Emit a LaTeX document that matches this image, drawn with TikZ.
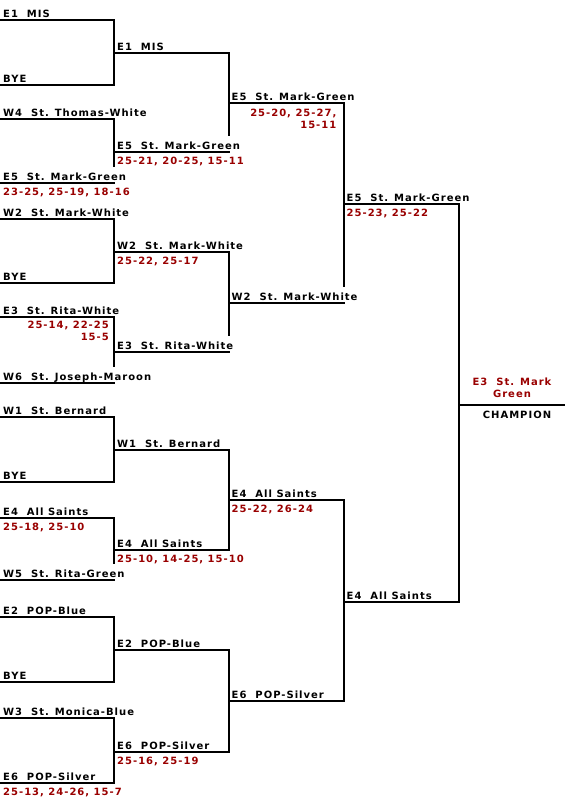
\documentclass[tikz,border=0pt]{standalone}
\usepackage{fontspec}
\usepackage{xcolor}
\newfontfamily\bracketfont{DejaVu Sans}[LetterSpace=10]
\definecolor{scorered}{RGB}{153,0,0}

\tikzset{
  bracket/.style={line width=2bp},
  team/.style={anchor=south west, inner sep=0pt, fill=white, text height=13bp, text depth=1.5bp,
    xshift=3bp, yshift=1bp, font=\bracketfont\bfseries\fontsize{10bp}{12bp}\selectfont},
  score/.style={anchor=base west, inner sep=0pt, text=scorered, xshift=3bp, yshift=-12bp,
    font=\bracketfont\bfseries\fontsize{10bp}{12bp}\selectfont},
  scoretwo/.style={align=right, anchor=north east, inner sep=0pt, text=scorered,
    font=\bracketfont\bfseries\fontsize{10bp}{12bp}\selectfont},
}

\begin{document}
\begin{tikzpicture}[x=1bp,y=-1bp]
    \useasboundingbox (0,0) rectangle (565,800);
    % columns
    \coordinate (c1) at (114,0);
    \coordinate (c2) at (228.5,0);
    \coordinate (c3) at (343.5,0);
    \coordinate (c4) at (459,0);
    \coordinate (c5) at (565,0);
    % first round
    \coordinate (ra1) at (0,20);
    \coordinate (ra2) at (0,85);
    \coordinate (ra3) at (0,119);
    \coordinate (ra4) at (0,183);
    \coordinate (ra5) at (0,219);
    \coordinate (ra6) at (0,283);
    \coordinate (ra7) at (0,317);
    \coordinate (ra8) at (0,383);
    \coordinate (ra9) at (0,417);
    \coordinate (ra10) at (0,482);
    \coordinate (ra11) at (0,518);
    \coordinate (ra12) at (0,580);
    \coordinate (ra13) at (0,617);
    \coordinate (ra14) at (0,682);
    \coordinate (ra15) at (0,718);
    \coordinate (ra16) at (0,783);
    % second round
    \coordinate (rb1) at (114,53);
    \coordinate (rb2) at (114,152);
    \coordinate (rb3) at (114,252);
    \coordinate (rb4) at (114,352);
    \coordinate (rb5) at (114,450);
    \coordinate (rb6) at (114,550);
    \coordinate (rb7) at (114,650);
    \coordinate (rb8) at (114,752);
    % semifinals and final
    \coordinate (rc1) at (228.5,103);
    \coordinate (rc2) at (228.5,303);
    \coordinate (rc3) at (228.5,500);
    \coordinate (rc4) at (228.5,701);
    \coordinate (rd1) at (343.5,204);
    \coordinate (rd2) at (343.5,602);
    \coordinate (champ) at (459,405);
    \coordinate (cmid) at (512,405);

    \draw[bracket] (ra1) -- (ra1 -| c1) -- (ra2 -| c1) -- (ra2);
    \draw[bracket] (ra3) -- (ra3 -| c1) -- (ra4 -| c1) -- (ra4);
    \draw[bracket] (ra5) -- (ra5 -| c1) -- (ra6 -| c1) -- (ra6);
    \draw[bracket] (ra7) -- (ra7 -| c1) -- (ra8 -| c1) -- (ra8);
    \draw[bracket] (ra9) -- (ra9 -| c1) -- (ra10 -| c1) -- (ra10);
    \draw[bracket] (ra11) -- (ra11 -| c1) -- (ra12 -| c1) -- (ra12);
    \draw[bracket] (ra13) -- (ra13 -| c1) -- (ra14 -| c1) -- (ra14);
    \draw[bracket] (ra15) -- (ra15 -| c1) -- (ra16 -| c1) -- (ra16);
    \draw[bracket] (rb1) -- (rb1 -| c2) -- (rb2 -| c2) -- (rb2);
    \draw[bracket] (rb3) -- (rb3 -| c2) -- (rb4 -| c2) -- (rb4);
    \draw[bracket] (rb5) -- (rb5 -| c2) -- (rb6 -| c2) -- (rb6);
    \draw[bracket] (rb7) -- (rb7 -| c2) -- (rb8 -| c2) -- (rb8);
    \draw[bracket] (rc1) -- (rc1 -| c3) -- (rc2 -| c3) -- (rc2);
    \draw[bracket] (rc3) -- (rc3 -| c3) -- (rc4 -| c3) -- (rc4);
    \draw[bracket] (rd1) -- (rd1 -| c4) -- (rd2 -| c4) -- (rd2);
    \draw[bracket] (champ) -- (champ -| c5);

    % teams, first round
    \node[team] (ta1) at (ra1) {E1~~MIS};
    \node[team] (ta2) at (ra2) {BYE};
    \node[team] (ta3) at (ra3) {W4~~St. Thomas-White};
    \node[team] (ta4) at (ra4) {E5~~St. Mark-Green};
    \node[team] (ta5) at (ra5) {W2~~St. Mark-White};
    \node[team] (ta6) at (ra6) {BYE};
    \node[team] (ta7) at (ra7) {E3~~St. Rita-White};
    \node[team] (ta8) at (ra8) {W6~~St. Joseph-Maroon};
    \node[team] (ta9) at (ra9) {W1~~St. Bernard};
    \node[team] (ta10) at (ra10) {BYE};
    \node[team] (ta11) at (ra11) {E4~~All Saints};
    \node[team] (ta12) at (ra12) {W5~~St. Rita-Green};
    \node[team] (ta13) at (ra13) {E2~~POP-Blue};
    \node[team] (ta14) at (ra14) {BYE};
    \node[team] (ta15) at (ra15) {W3~~St. Monica-Blue};
    \node[team] (ta16) at (ra16) {E6~~POP-Silver};
    % teams, later rounds
    \node[team] (tb1) at (rb1) {E1~~MIS};
    \node[team] (tb2) at (rb2) {E5~~St. Mark-Green};
    \node[team] (tb3) at (rb3) {W2~~St. Mark-White};
    \node[team] (tb4) at (rb4) {E3~~St. Rita-White};
    \node[team] (tb5) at (rb5) {W1~~St. Bernard};
    \node[team] (tb6) at (rb6) {E4~~All Saints};
    \node[team] (tb7) at (rb7) {E2~~POP-Blue};
    \node[team] (tb8) at (rb8) {E6~~POP-Silver};
    \node[team] (tc1) at (rc1) {E5~~St. Mark-Green};
    \node[team] (tc2) at (rc2) {W2~~St. Mark-White};
    \node[team] (tc3) at (rc3) {E4~~All Saints};
    \node[team] (tc4) at (rc4) {E6~~POP-Silver};
    \node[team] (td1) at (rd1) {E5~~St. Mark-Green};
    \node[team] (td2) at (rd2) {E4~~All Saints};

    % scores
    \node[score] (sa4) at (ra4) {23-25, 25-19, 18-16};
    \node[scoretwo, xshift=-5bp, yshift=-4bp] (sa7) at (ra7 -| c1) {25-14, 22-25\\15-5};
    \node[score] (sa11) at (ra11) {25-18, 25-10};
    \node[score] (sa16) at (ra16) {25-13, 24-26, 15-7};
    \node[score] (sb2) at (rb2) {25-21, 20-25, 15-11};
    \node[score] (sb3) at (rb3) {25-22, 25-17};
    \node[score] (sb6) at (rb6) {25-10, 14-25, 15-10};
    \node[score] (sb8) at (rb8) {25-16, 25-19};
    \node[scoretwo, xshift=-7bp, yshift=-6bp] (sc1) at (rc1 -| c3) {25-20, 25-27,\\15-11};
    \node[score] (sc3) at (rc3) {25-22, 26-24};
    \node[score] (sd1) at (rd1) {25-23, 25-22};

    % champion
    \node[scoretwo, align=center, anchor=south, yshift=7bp] (champname) at (cmid) {E3~~St. Mark\\Green};
    \node[score, anchor=base, xshift=2bp, yshift=-1bp] (champtitle) at (cmid) {\textcolor{black}{CHAMPION}};
\end{tikzpicture}
\end{document}
